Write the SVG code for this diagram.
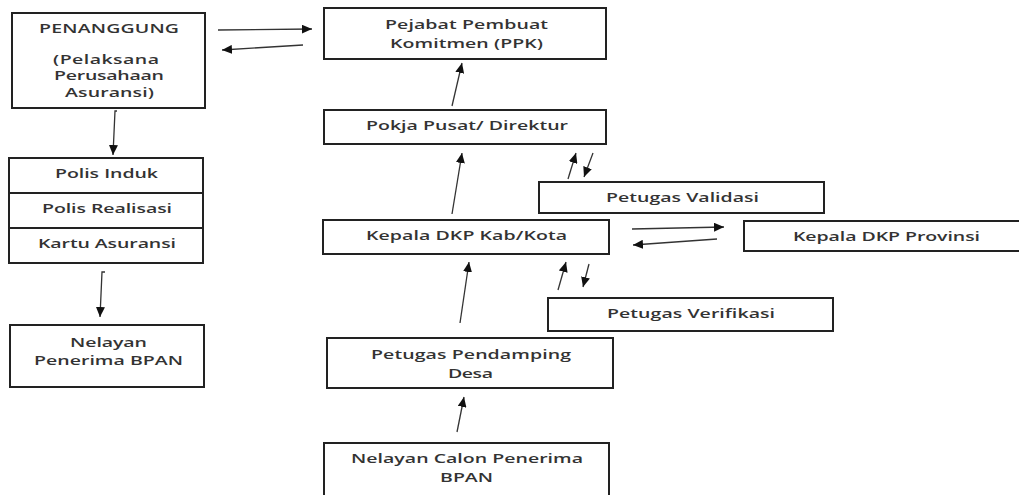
<svg xmlns="http://www.w3.org/2000/svg" width="1019" height="495" viewBox="0 0 1019 495">
<style>
.box{fill:#fff;stroke:#222;stroke-width:2}
.div{stroke:#222;stroke-width:2}
.t{font-family:"Open Sans","Liberation Sans",sans-serif;font-size:13px;font-weight:600;fill:#333;text-anchor:middle}
.c{fill:none;stroke:#333;stroke-width:1.3}
</style>
<defs>
<marker id="ah" markerUnits="userSpaceOnUse" markerWidth="11" markerHeight="9" refX="10" refY="4.5" orient="auto">
<path d="M0,0 L10,4.5 L0,9 z" fill="#111"/>
</marker>
</defs>
<rect width="1019" height="495" fill="#fff"/>

<g id="penanggung">
<rect class="box" x="12" y="13" width="193" height="95"/>
<text class="t" transform="translate(109,33) scale(1.5,1)" textLength="93.3" lengthAdjust="spacing">PENANGGUNG</text>
<text class="t" transform="translate(106,64) scale(1.5,1)" textLength="70.7" lengthAdjust="spacing">(Pelaksana</text>
<text class="t" transform="translate(109,80) scale(1.5,1)" textLength="73.3" lengthAdjust="spacing">Perusahaan</text>
<text class="t" transform="translate(109.5,97) scale(1.5,1)" textLength="59.3" lengthAdjust="spacing">Asuransi)</text>
</g>

<g id="polis">
<rect class="box" x="9" y="158" width="194" height="105"/>
<line class="div" x1="9" y1="193" x2="203" y2="193"/>
<line class="div" x1="9" y1="228" x2="203" y2="228"/>
<text class="t" transform="translate(106.5,178) scale(1.5,1)" textLength="68.7" lengthAdjust="spacing">Polis Induk</text>
<text class="t" transform="translate(107,213) scale(1.5,1)" textLength="86.7" lengthAdjust="spacing">Polis Realisasi</text>
<text class="t" transform="translate(107,248) scale(1.5,1)" textLength="92" lengthAdjust="spacing">Kartu Asuransi</text>
</g>

<g id="nelayan-penerima">
<rect class="box" x="10" y="325" width="194" height="62"/>
<text class="t" transform="translate(108.5,347) scale(1.5,1)" textLength="51.3" lengthAdjust="spacing">Nelayan</text>
<text class="t" transform="translate(108.5,365) scale(1.5,1)" textLength="99.3" lengthAdjust="spacing">Penerima BPAN</text>
</g>

<g id="ppk">
<rect class="box" x="324" y="8" width="282" height="51"/>
<text class="t" transform="translate(466.5,29) scale(1.5,1)" textLength="108.7" lengthAdjust="spacing">Pejabat Pembuat</text>
<text class="t" transform="translate(466.5,48) scale(1.5,1)" textLength="102" lengthAdjust="spacing">Komitmen (PPK)</text>
</g>

<g id="pokja">
<rect class="box" x="324" y="110" width="282" height="34"/>
<text class="t" transform="translate(467,130) scale(1.5,1)" textLength="134.7" lengthAdjust="spacing">Pokja Pusat/ Direktur</text>
</g>

<g id="validasi">
<rect class="box" x="539" y="182" width="285" height="31"/>
<text class="t" transform="translate(682.5,202) scale(1.5,1)" textLength="102" lengthAdjust="spacing">Petugas Validasi</text>
</g>

<g id="kepala-kab">
<rect class="box" x="323" y="220" width="286" height="34"/>
<text class="t" transform="translate(466.5,240) scale(1.5,1)" textLength="134" lengthAdjust="spacing">Kepala DKP Kab/Kota</text>
</g>

<g id="kepala-prov">
<rect class="box" x="744" y="221" width="280" height="30"/>
<text class="t" transform="translate(886.5,241) scale(1.5,1)" textLength="124.7" lengthAdjust="spacing">Kepala DKP Provinsi</text>
</g>

<g id="verifikasi">
<rect class="box" x="548" y="298" width="285" height="33"/>
<text class="t" transform="translate(691,318) scale(1.5,1)" textLength="112" lengthAdjust="spacing">Petugas Verifikasi</text>
</g>

<g id="pendamping">
<rect class="box" x="327" y="338" width="286" height="50"/>
<text class="t" transform="translate(471,359) scale(1.5,1)" textLength="133.3" lengthAdjust="spacing">Petugas Pendamping</text>
<text class="t" transform="translate(470.5,378) scale(1.5,1)" textLength="30" lengthAdjust="spacing">Desa</text>
</g>

<g id="nelayan-calon">
<rect class="box" x="324" y="443" width="285" height="60"/>
<text class="t" transform="translate(467,463) scale(1.5,1)" textLength="154.7" lengthAdjust="spacing">Nelayan Calon Penerima</text>
<text class="t" transform="translate(466.5,482) scale(1.5,1)" textLength="35.3" lengthAdjust="spacing">BPAN</text>
</g>

<g id="connectors">
<path class="c" marker-end="url(#ah)" d="M218,30 L312,29"/>
<path class="c" marker-end="url(#ah)" d="M303,45 L222,50"/>
<path class="c" marker-end="url(#ah)" d="M452,106 L462,63"/>
<path class="c" marker-end="url(#ah)" d="M452,214 L462,153"/>
<path class="c" marker-end="url(#ah)" d="M568,179 L576,153"/>
<path class="c" marker-end="url(#ah)" d="M593,153 L584,177"/>
<path class="c" marker-end="url(#ah)" d="M632,229 L724,227"/>
<path class="c" marker-end="url(#ah)" d="M717,239 L633,245"/>
<path class="c" marker-end="url(#ah)" d="M558,290 L566,262"/>
<path class="c" marker-end="url(#ah)" d="M589,264 L583,287"/>
<path class="c" marker-end="url(#ah)" d="M460,323 L469,262"/>
<path class="c" marker-end="url(#ah)" d="M457,432 L464,397"/>
<path class="c" marker-end="url(#ah)" d="M117,111 L115,111 L113,155"/>
<path class="c" marker-end="url(#ah)" d="M105,272 L102,272 L100,317"/>
</g>
</svg>
